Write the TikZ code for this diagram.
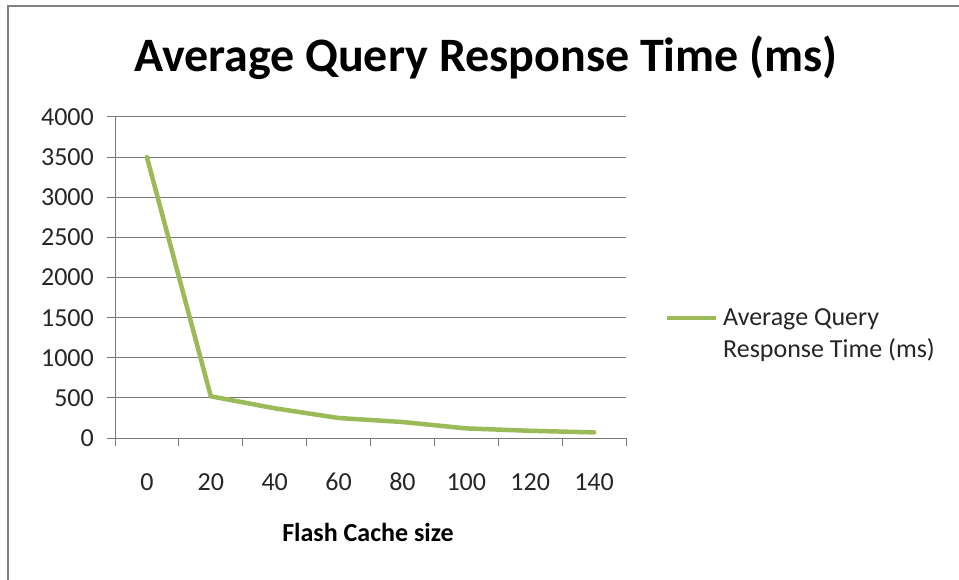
\documentclass[tikz,border=0pt]{standalone}
\usepackage{fontspec}
\setmainfont{Carlito}
\begin{document}
\begin{tikzpicture}[x=1pt,y=-1pt,
  grid/.style={draw=gray!95!black, line width=1pt},
  frame/.style={draw=gray, line width=2pt},
  series/.style={draw=serieGreen, line width=4.5pt, line join=round, line cap=round},
  ticklbl/.style={font=\fontsize{26}{30}\selectfont, text=black!85, inner sep=0pt},
]
\definecolor{serieGreen}{HTML}{9BBB59}
\useasboundingbox (0,0) rectangle (959,580);
\fill[white] (0,0) rectangle (959,580);
% frame
\draw[frame] (8,580) -- (8,6) -- (960,6);
% title
\node[font=\bfseries\fontsize{48}{54}\selectfont, inner sep=0pt, anchor=base] (title) at (486,72) {Average Query Response Time (ms)};
% horizontal gridlines and y labels
\foreach \k/\lab in {0/0,1/500,2/1000,3/1500,4/2000,5/2500,6/3000,7/3500,8/4000}{
  \pgfmathsetmacro{\yy}{438-40.125*\k}
  \draw[grid] (107,\yy) -- (626,\yy);
  \node[ticklbl, anchor=base east] (y\k) at (94,\yy+8.5) {\lab};
}
% vertical axis
\draw[grid] (115,117) -- (115,438);
% x ticks
\foreach \i in {0,...,8}{
  \pgfmathsetmacro{\xx}{115+63.875*\i}
  \draw[grid] (\xx,438) -- (\xx,446);
}
% x labels
\foreach \i/\lab in {0/0,1/20,2/40,3/60,4/80,5/100,6/120,7/140}{
  \pgfmathsetmacro{\xx}{115+63.875*(\i+0.5)}
  \node[ticklbl, anchor=base] (x\i) at (\xx,490) {\lab};
}
% axis title
\node[font=\bfseries\fontsize{26}{30}\selectfont, inner sep=0pt, anchor=base] (xtitle) at (368,541) {Flash Cache size};
% data
\draw[series] (146.9,157.1) -- (210.8,396.3) -- (274.7,408.3) -- (338.6,418.0) -- (402.4,422.0) -- (466.3,428.4) -- (530.2,430.8) -- (594.1,432.4);
% legend
\coordinate (la) at (667,318);
\coordinate (lb) at (716,318);
\draw[series, line cap=butt] (la) -- (lb);
\node[ticklbl, anchor=west, align=left, font=\fontsize{26}{32}\selectfont] (leg) at (723,335) {Average Query\\Response Time (ms)};
\end{tikzpicture}
\end{document}
